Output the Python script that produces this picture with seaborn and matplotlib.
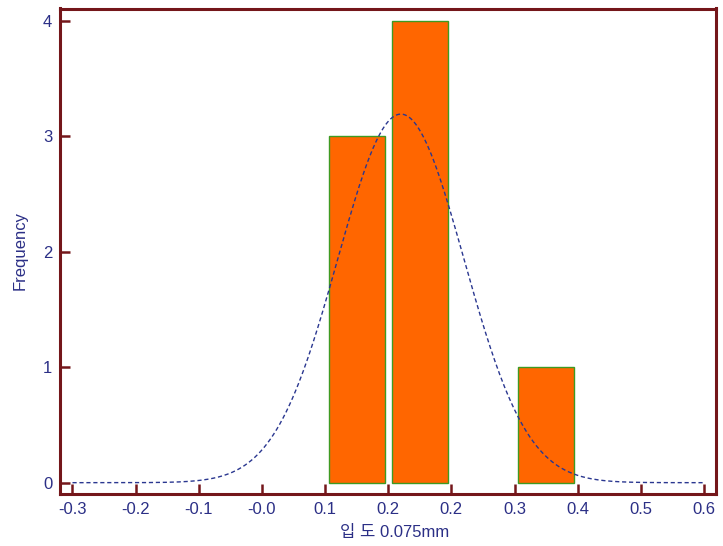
import numpy as np
import pandas as pd
import matplotlib
matplotlib.use("Agg")
import matplotlib.pyplot as plt
import seaborn as sns

# ---- data ----
bin_edges = [0.06, 0.15, 0.24, 0.33, 0.42]
bin_centers = [0.105, 0.195, 0.285, 0.375]
counts = [3, 4, 0, 1]
fit_mean = 0.168
fit_sd = 0.09
n_obs = 8
x_ticks = [-0.3, -0.21, -0.12, -0.03, 0.06, 0.15, 0.24, 0.33, 0.42, 0.51, 0.60]
x_tick_labels = ["-0.3", "-0.2", "-0.1", "-0.0", "0.1", "0.2", "0.2", "0.3", "0.4", "0.5", "0.6"]
y_ticks = [0, 1, 2, 3, 4]
x_label = "입 도 0.075mm"
y_label = "Frequency"

sns.set_theme(style="white")
plt.rcParams["font.family"] = ["Liberation Sans", "Noto Sans CJK KR", "DejaVu Sans"]

spine_c = "#74161A"
text_c = "#2B2F86"

fig = plt.figure(figsize=(7.23, 5.46), dpi=100)
ax = fig.add_axes([60 / 723, 1 - 494 / 546, (715.5 - 60) / 723, (494 - 8.5) / 546])

df = pd.DataFrame({"x": bin_centers, "w": counts})
sns.histplot(data=df, x="x", weights="w", bins=bin_edges, shrink=0.887,
             color="#FF6600", edgecolor="#3E9A22", linewidth=1.0, alpha=1.0, ax=ax)
for p in list(ax.patches):
    if p.get_height() == 0:
        p.remove()

binw = bin_edges[1] - bin_edges[0]
xs = np.linspace(-0.3, 0.6, 400)
ys = n_obs * binw * np.exp(-0.5 * ((xs - fit_mean) / fit_sd) ** 2) / (fit_sd * np.sqrt(2 * np.pi))
sns.lineplot(x=xs, y=ys, ax=ax, color="#2A3790", linewidth=1.0,
             linestyle=(0, (3, 2)), zorder=5)

ax.set_xlim(-0.3178, 0.6164)
ax.set_ylim(-0.098, 4.106)
ax.set_xticks(x_ticks)
ax.set_xticklabels(x_tick_labels)
ax.set_yticks(y_ticks)
ax.set_yticklabels([str(v) for v in y_ticks])

ax.tick_params(axis="both", which="major", bottom=True, left=True, top=False, right=False,
               direction="in", length=7.5, width=1.8, color=spine_c,
               labelcolor=text_c, labelsize=12, pad=5.5)
for s in ax.spines.values():
    s.set_color(spine_c)
    s.set_linewidth(2.2)

ax.set_xlabel(x_label, color=text_c, fontsize=12)
ax.set_ylabel(y_label, color=text_c, fontsize=12)
ax.xaxis.set_label_coords((395 - 60) / (715.5 - 60), -(533 - 494) / (494 - 8.5))
ax.yaxis.set_label_coords(-(60 - 20) / (715.5 - 60), (494 - 251) / (494 - 8.5))
ax.xaxis.label.set_va("center")
ax.yaxis.label.set_va("center")

fig.savefig("out.png", dpi=100, facecolor="white")
